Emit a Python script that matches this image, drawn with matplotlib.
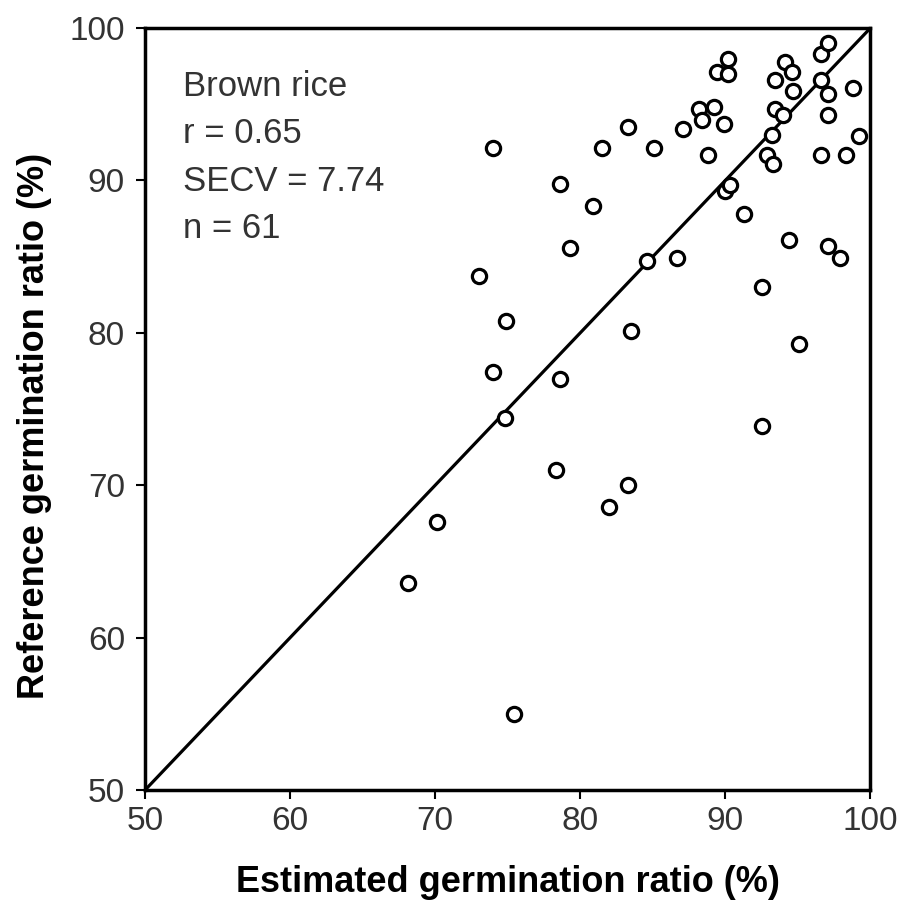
import matplotlib
matplotlib.use('Agg')
import matplotlib.pyplot as plt

# valores
estimado = [68.1, 70.1, 73.0, 74.0, 74.0, 74.8, 74.9, 75.4, 78.6, 78.6,
            78.3, 79.3, 80.9, 81.5, 82.0, 83.3, 83.3, 83.5, 85.1, 84.6,
            86.7, 87.1, 88.2, 88.4, 89.2, 88.8, 89.4, 90.2, 90.2, 89.9,
            90.0, 90.3, 91.3, 92.5, 92.5, 92.9, 93.3, 93.2, 93.4, 94.0,
            93.4, 94.1, 94.6, 94.7, 94.4, 95.1, 96.6, 97.1, 96.6, 97.1,
            97.1, 96.6, 97.1, 97.9, 98.3, 98.8, 99.2]
referencia = [63.6, 67.6, 83.7, 92.1, 77.4, 74.4, 80.8, 55.0, 89.8, 77.0,
              71.0, 85.6, 88.3, 92.1, 68.6, 70.0, 93.5, 80.1, 92.1, 84.7,
              84.9, 93.4, 94.7, 94.0, 94.8, 91.7, 97.1, 97.0, 98.0, 93.7,
              89.3, 89.7, 87.8, 83.0, 73.9, 91.7, 91.1, 93.0, 94.7, 94.3,
              96.6, 97.8, 97.1, 95.9, 86.1, 79.3, 98.3, 99.0, 96.6, 95.7,
              94.3, 91.7, 85.7, 84.9, 91.7, 96.1, 92.9]
ticks = [50, 60, 70, 80, 90, 100]

plt.rcParams['font.family'] = ['Liberation Sans', 'DejaVu Sans']

fig = plt.figure(figsize=(9.01, 9.06), dpi=100)
ax = fig.add_axes([0.161, 0.128, 0.805, 0.841])

ax.plot([50, 100], [50, 100], color='black', linewidth=2.3, zorder=1)
ax.scatter(estimado, referencia, s=105, facecolors='white', edgecolors='black',
           linewidths=2.3, zorder=2)

ax.set_xlim(50, 100)
ax.set_ylim(50, 100)
ax.set_xticks(ticks)
ax.set_yticks(ticks)
ax.tick_params(direction='out', length=6.5, width=1.5, labelsize=24,
               labelcolor='#333333')
ax.tick_params(axis='x', pad=5)
ax.tick_params(axis='y', pad=8)
for s in ax.spines.values():
    s.set_linewidth(2.5)

ax.set_xlabel("Estimated germination ratio (%)", fontsize=26, fontweight='bold', labelpad=20)
ax.set_ylabel("Reference germination ratio (%)", fontsize=26, fontweight='bold')
ax.yaxis.set_label_coords(-0.128, 0.478)

ax.text(0.052, 0.945, "Brown rice\nr = 0.65\nSECV = 7.74\nn = 61", transform=ax.transAxes,
        fontsize=25, va='top', ha='left', color='#333333', linespacing=1.55)

fig.savefig("out.png", dpi=100)
